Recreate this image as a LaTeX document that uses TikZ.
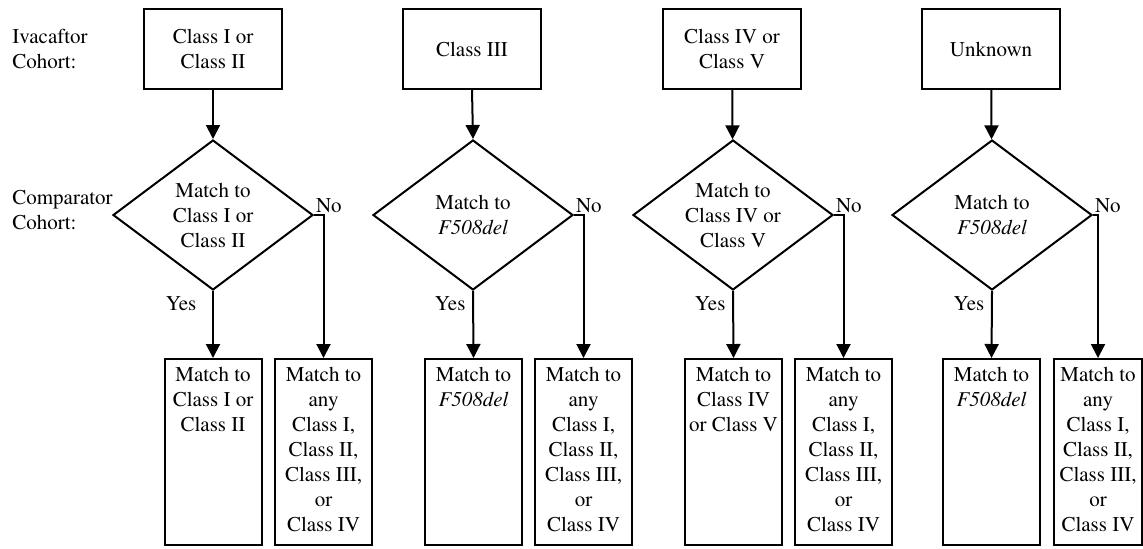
\documentclass[tikz,border=0pt]{standalone}
\usepackage[T1]{fontenc}
\usepackage{mathptmx}
\usetikzlibrary{shapes.geometric,arrows.meta}

\tikzset{
    cohortbox/.style={draw, line width=1pt, minimum width=69pt, minimum height=40pt, inner sep=0pt, align=center},
    matchdiamond/.style={draw, diamond, aspect=1.333, line width=1pt, minimum width=100pt, minimum height=75pt, inner sep=0pt, align=center},
    resultbox/.style={draw, line width=1pt, minimum width=48.5pt, minimum height=93pt, inner sep=0pt},
    resulttext/.style={anchor=north, inner sep=0pt, yshift=-4.5pt, align=center},
    sidelabel/.style={anchor=west, inner sep=0pt, align=left},
    flow/.style={line width=1pt, -{Triangle[width=7pt,length=7pt]}},
}

\begin{document}
\begin{tikzpicture}[
            x=0.5pt, y=-0.5pt,
            every node/.style={font=\fontsize{10.5pt}{12.5pt}\selectfont},
        ]
            \useasboundingbox (0, 0) rectangle (1143, 548);
            \node[sidelabel] (ivalabel) at (12, 49) {Ivacaftor\\Cohort:};
            \node[sidelabel] (complabel) at (12, 210) {Comparator\\Cohort:};
            % Class I or Class II
            \node[cohortbox] (cohortA) at (213, 49) {Class I or\\Class II};
            \node[matchdiamond] (matchA) at (213, 215) {Match to\\Class I or\\Class II};
            \node[resultbox] (yesA) at (213, 452) {};
            \node[resultbox] (noA) at (323.5, 452) {};
            \node[resulttext] (yesAtext) at (yesA.north) {Match to\\Class I or\\Class II};
            \node[resulttext] (noAtext) at (noA.north) {Match to\\any\\Class I,\\Class II,\\Class III,\\or\\Class IV};
            \draw[flow] (cohortA) -- (matchA);
            \draw[flow] (matchA.south) -- node[pos=0.19, left, xshift=-4.5pt] (yesAlabel) {Yes} (yesA.north);
            \draw[flow] (matchA.east) -| node[at start, anchor=south west, inner sep=0.5pt] (noAlabel) {No} (noA.north);
            % Class III
            \node[cohortbox] (cohortB) at (472, 49) {Class III};
            \node[matchdiamond] (matchB) at (473, 215) {Match to\\\textit{F508del}};
            \node[resultbox] (yesB) at (473.5, 452) {};
            \node[resultbox] (noB) at (583.5, 452) {};
            \node[resulttext] (yesBtext) at (yesB.north) {Match to\\\textit{F508del}};
            \node[resulttext] (noBtext) at (noB.north) {Match to\\any\\Class I,\\Class II,\\Class III,\\or\\Class IV};
            \draw[flow] (cohortB.south) -- (matchB.north);
            \draw[flow] (matchB.south) -- node[pos=0.19, left] (yesBlabel) {Yes} (yesB.north);
            \draw[flow] (matchB.east) -| node[at start, anchor=south west, inner sep=0.5pt] (noBlabel) {No} (noB.north);
            % Class IV or Class V
            \node[cohortbox] (cohortC) at (732, 49) {Class IV or\\Class V};
            \node[matchdiamond] (matchC) at (733, 215) {Match to\\Class IV or\\Class V};
            \node[resultbox] (yesC) at (733.5, 452) {};
            \node[resultbox] (noC) at (843.5, 452) {};
            \node[resulttext] (yesCtext) at (yesC.north) {Match to\\Class IV\\or Class V};
            \node[resulttext] (noCtext) at (noC.north) {Match to\\any\\Class I,\\Class II,\\Class III,\\or\\Class IV};
            \draw[flow] (cohortC) -- (matchC);
            \draw[flow] (matchC.south) -- node[pos=0.19, left] (yesClabel) {Yes} (yesC.north);
            \draw[flow] (matchC.east) -| node[at start, anchor=south west, inner sep=0.5pt] (noClabel) {No} (noC.north);
            % Unknown
            \node[cohortbox] (cohortD) at (991, 49) {Unknown};
            \node[matchdiamond] (matchD) at (992, 215) {Match to\\\textit{F508del}};
            \node[resultbox] (yesD) at (991.5, 452) {};
            \node[resultbox, minimum width=44pt] (noD) at (1098, 452) {};
            \node[resulttext] (yesDtext) at (yesD.north) {Match to\\\textit{F508del}};
            \node[resulttext] (noDtext) at (noD.north) {Match to\\any\\Class I,\\Class II,\\Class III,\\or\\Class IV};
            \draw[flow] (cohortD) -- (matchD);
            \draw[flow] (matchD.south) -- node[pos=0.19, left] (yesDlabel) {Yes} (yesD.north);
            \draw[flow] (matchD.east) -| node[at start, anchor=south west, inner sep=0.5pt] (noDlabel) {No} (noD.north);
        \end{tikzpicture}
\end{document}
